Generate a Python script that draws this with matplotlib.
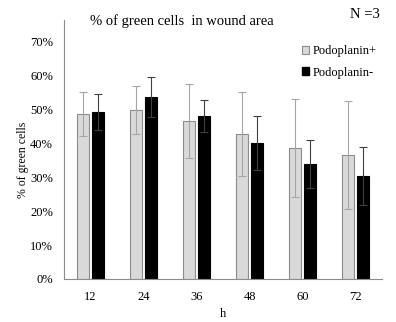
import numpy as np
from matplotlib import pyplot as plt
from matplotlib.patches import Patch

plt.rcParams['font.family'] = ['Liberation Serif', 'DejaVu Serif']

hours = ['12', '24', '36', '48', '60', '72']
pos_mean = [48.7, 49.8, 46.6, 42.8, 38.6, 36.6]
pos_err = [6.5, 7.1, 10.9, 12.4, 14.5, 15.9]
neg_mean = [49.3, 53.7, 48.1, 40.1, 33.9, 30.4]
neg_err = [5.3, 5.9, 4.7, 8.0, 7.1, 8.5]

fig = plt.figure(figsize=(3.96, 3.22), dpi=100)
ax = fig.add_axes([0.162, 0.134, 0.803, 0.804])

x = np.arange(len(hours))
w = 0.22
ax.bar(x - 0.14, pos_mean, w, color='#d9d9d9', edgecolor='#8c8c8c', linewidth=0.8,
       yerr=pos_err, error_kw=dict(ecolor='#a6a6a6', elinewidth=0.8, capsize=3, capthick=0.8))
ax.bar(x + 0.14, neg_mean, w, color='black', edgecolor='black', linewidth=0.8,
       yerr=neg_err, error_kw=dict(ecolor='#404040', elinewidth=0.8, capsize=3, capthick=0.8))

ax.set_xlim(-0.5, len(hours) - 0.5)
ax.set_ylim(0, 76.5)
ax.set_xticks(x)
ax.set_xticklabels(hours)
ax.set_yticks(np.arange(0, 71, 10))
ax.set_yticklabels(['%d%%' % v for v in range(0, 71, 10)])
ax.tick_params(length=0, labelsize=9)
ax.tick_params(axis='y', pad=8)
ax.tick_params(axis='x', pad=9)
for side in ['top', 'right']:
    ax.spines[side].set_visible(False)
for side in ['left', 'bottom']:
    ax.spines[side].set_color('#8c8c8c')
    ax.spines[side].set_linewidth(0.8)

ax.set_xlabel('h', fontsize=9, labelpad=3)
ax.set_ylabel('% of green cells', fontsize=8.5)
ax.yaxis.set_label_coords(-0.11, 0.46)

fig.text(0.46, 0.935, '% of green cells  in wound area', fontsize=10.5, ha='center', va='center')
fig.text(0.922, 0.955, 'N =3', fontsize=10.5, ha='center', va='center')

handles = [Patch(facecolor='#d9d9d9', edgecolor='#8c8c8c', linewidth=0.8),
           Patch(facecolor='black', edgecolor='black')]
ax.legend(handles, ['Podoplanin+', 'Podoplanin-'], loc='upper right',
          bbox_to_anchor=(1.02, 0.945), frameon=False, fontsize=9,
          handlelength=0.6, handleheight=0.6, handletextpad=0.3, labelspacing=0.75)

fig.savefig('out.png', dpi=100)
